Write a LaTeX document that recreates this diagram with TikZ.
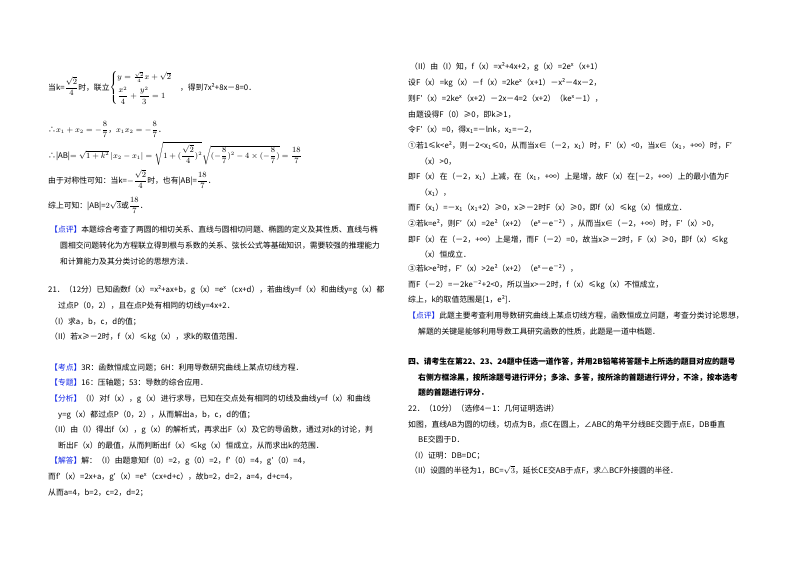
\documentclass[tikz,border=0pt]{standalone}
\usepackage{amsmath}
\usepackage{fontspec}
\setmainfont{Noto Sans CJK SC}
\definecolor{lab}{RGB}{20,40,230}
\newcommand\Up[1]{\textsuperscript{#1}}
\newcommand\Dn[1]{\textsubscript{#1}}
\begin{document}
\begin{tikzpicture}[x=1pt,y=-1pt,
 t/.style={anchor=base west,inner sep=0pt,font=\fontsize{7.8}{9}\selectfont},
 tb/.style={t,font=\fontsize{7.8}{9}\selectfont\bfseries}]
\useasboundingbox[fill=white] (0,0) rectangle (800,565);
% left column
\node[t] (a1) at (48,90) {当k=$\dfrac{\sqrt2}{4}$时，联立$\begin{cases}y=\frac{\sqrt2}{4}x+\sqrt2\\[4pt] \dfrac{x^2}{4}+\dfrac{y^2}{3}=1\end{cases}$，得到7x²+8x－8=0．};
\node[t] (a2) at (48,132) {∴$x_1+x_2=-\dfrac{8}{7}$，$x_1x_2=-\dfrac{8}{7}$．};
\node[t] (a3) at (48,158) {∴|AB|$=\sqrt{1+k^2}\,|x_2-x_1|=\sqrt{1+(\dfrac{\sqrt2}{4})^2}\sqrt{(-\dfrac87)^2-4\times(-\dfrac87)}=\dfrac{18}{7}$};
\node[t] (a4) at (48,183) {由于对称性可知：当k=$-\dfrac{\sqrt2}{4}$时，也有|AB|=$\dfrac{18}{7}$．};
\node[t] (a5) at (48,208) {综上可知：|AB|=$2\sqrt3$或$\dfrac{18}{7}$．};
\node[t] (a6) at (50,232) {\textcolor{lab}{【点评】}本题综合考查了两圆的相切关系、直线与圆相切问题、椭圆的定义及其性质、直线与椭};
\node[t] (a7) at (60,248) {圆相交问题转化为方程联立得到根与系数的关系、弦长公式等基础知识，需要较强的推理能力};
\node[t] (a8) at (60,264) {和计算能力及其分类讨论的思想方法．};
\node[t] (b1) at (48,292) {21．（12分）已知函数f（x）=x²+ax+b，g（x）=e\Up{x}（cx+d），若曲线y=f（x）和曲线y=g（x）都};
\node[t] (b2) at (58,308) {过点P（0，2），且在点P处有相同的切线y=4x+2．};
\node[t] (b3) at (50,324) {（I）求a，b，c，d的值；};
\node[t] (b4) at (50,339) {（II）若x≥－2时，f（x）≤kg（x），求k的取值范围．};
\node[t] (b5) at (50,370) {\textcolor{lab}{【考点】}3R：函数恒成立问题；6H：利用导数研究曲线上某点切线方程．};
\node[t] (b6) at (50,385) {\textcolor{lab}{【专题】}16：压轴题；53：导数的综合应用．};
\node[t] (b7) at (50,401) {\textcolor{lab}{【分析】}（I）对f（x），g（x）进行求导，已知在交点处有相同的切线及曲线y=f（x）和曲线};
\node[t] (b8) at (58,417) {y=g（x）都过点P（0，2），从而解出a，b，c，d的值；};
\node[t] (b9) at (50,432) {（II）由（I）得出f（x），g（x）的解析式，再求出F（x）及它的导函数，通过对k的讨论，判};
\node[t] (b10) at (58,448) {断出F（x）的最值，从而判断出f（x）≤kg（x）恒成立，从而求出k的范围．};
\node[t] (b11) at (50,463) {\textcolor{lab}{【解答】}解：（I）由题意知f（0）=2，g（0）=2，f′（0）=4，g′（0）=4，};
\node[t] (b12) at (48,479) {而f′（x）=2x+a，g′（x）=e\Up{x}（cx+d+c），故b=2，d=2，a=4，d+c=4，};
\node[t] (b13) at (48,495) {从而a=4，b=2，c=2，d=2；};
% right column
\node[t] (c1) at (410,69) {（II）由（I）知，f（x）=x²+4x+2，g（x）=2e\Up{x}（x+1）};
\node[t] (c2) at (408,85) {设F（x）=kg（x）－f（x）=2ke\Up{x}（x+1）－x²－4x－2，};
\node[t] (c3) at (408,101) {则F′（x）=2ke\Up{x}（x+2）－2x－4=2（x+2）（ke\Up{x}－1），};
\node[t] (c4) at (408,117) {由题设得F（0）≥0，即k≥1，};
\node[t] (c5) at (408,132) {令F′（x）=0，得x\Dn{1}=－lnk，x\Dn{2}=－2，};
\node[t] (c6) at (408,148) {①若1≤k<e²，则－2<x\Dn{1}≤0，从而当x∈（－2，x\Dn{1}）时，F′（x）<0，当x∈（x\Dn{1}，+∞）时，F′};
\node[t] (c7) at (420,164) {（x）>0，};
\node[t] (c8) at (408,179) {即F（x）在（－2，x\Dn{1}）上减，在（x\Dn{1}，+∞）上是增，故F（x）在[－2，+∞）上的最小值为F};
\node[t] (c9) at (420,195) {（x\Dn{1}），};
\node[t] (c10) at (408,210) {而F（x\Dn{1}）=－x\Dn{1}（x\Dn{1}+2）≥0，x≥－2时F（x）≥0，即f（x）≤kg（x）恒成立．};
\node[t] (c11) at (408,226) {②若k=e²，则F′（x）=2e²（x+2）（e\Up{x}－e\Up{－2}），从而当x∈（－2，+∞）时，F′（x）>0，};
\node[t] (c12) at (408,242) {即F（x）在（－2，+∞）上是增，而F（－2）=0，故当x≥－2时，F（x）≥0，即f（x）≤kg};
\node[t] (c13) at (420,257) {（x）恒成立．};
\node[t] (c14) at (408,271) {③若k>e²时，F′（x）>2e²（x+2）（e\Up{x}－e\Up{－2}），};
\node[t] (c15) at (408,287) {而F（－2）=－2ke\Up{－2}+2<0，所以当x>－2时，f（x）≤kg（x）不恒成立，};
\node[t] (c16) at (408,302) {综上，k的取值范围是[1，e²]．};
\node[t] (c17) at (408,318) {\textcolor{lab}{【点评】}此题主要考查利用导数研究曲线上某点切线方程，函数恒成立问题，考查分类讨论思想，};
\node[t] (c18) at (418,334) {解题的关键是能够利用导数工具研究函数的性质，此题是一道中档题．};
\node[tb] (c19) at (408,364) {四、请考生在第22、23、24题中任选一道作答，并用2B铅笔将答题卡上所选的题目对应的题号};
\node[tb] (c20) at (418,380) {右侧方框涂黑，按所涂题号进行评分；多涂、多答，按所涂的首题进行评分，不涂，按本选考};
\node[tb] (c21) at (418,395) {题的首题进行评分．};
\node[t] (c22) at (408,411) {22．（10分）（选修4－1：几何证明选讲）};
\node[t] (c23) at (408,427) {如图，直线AB为圆的切线，切点为B，点C在圆上，∠ABC的角平分线BE交圆于点E，DB垂直};
\node[t] (c24) at (418,442) {BE交圆于D．};
\node[t] (c25) at (410,458) {（I）证明：DB=DC；};
\node[t] (c26) at (410,473) {（II）设圆的半径为1，BC=$\sqrt3$，延长CE交AB于点F，求△BCF外接圆的半径．};
\end{tikzpicture}
\end{document}
